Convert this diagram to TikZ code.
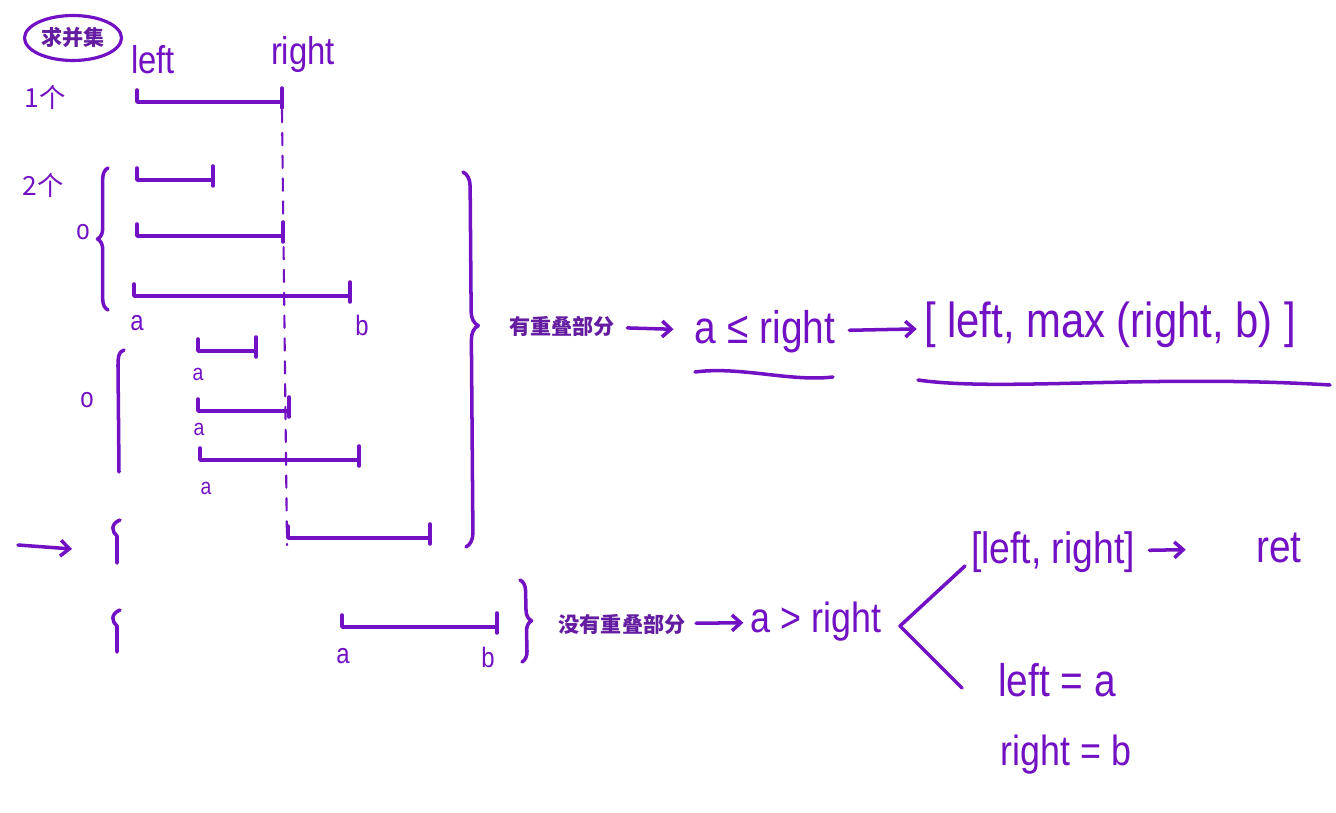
\documentclass[tikz,border=0pt]{standalone}
\usepackage{fontspec}
\setmainfont{Liberation Sans}
\newfontfamily\hand{Liberation Sans}[FakeStretch=0.85]
\newfontfamily\cjk{Noto Sans CJK SC}
\usepackage{tikz}
\usetikzlibrary{shapes,arrows.meta,positioning,decorations.pathreplacing}
\definecolor{ink}{RGB}{114,16,196}
\definecolor{inkdark}{RGB}{100,28,160}
\tikzstyle{pen} = [draw=ink, line width=2pt, line cap=round, line join=round]
\tikzstyle{arrow} = [pen, ->, >={Straight Barb[length=5pt,width=9pt]}]
\tikzstyle{hand} = [text=ink, inner sep=0pt, font=\hand\fontsize{24}{26}\selectfont]
\tikzstyle{small} = [text=ink, inner sep=0pt, font=\hand\fontsize{16}{18}\selectfont]
\tikzstyle{label} = [text=inkdark, inner sep=0pt, font=\cjk\bfseries\fontsize{12}{14}\selectfont]

\begin{document}
\begin{tikzpicture}[x=0.02cm, y=-0.02cm]
    \useasboundingbox[fill=white] (0,0) rectangle (1336,813);

    % Title
    \node[label, draw=ink, line width=1.8pt, ellipse, minimum width=1.94cm, minimum height=0.9cm] (title) at (73,38) {求并集};
    \node[hand, font=\hand\fontsize{22}{24}\selectfont] (lblLeft) at (153,60) {left};
    \node[hand, font=\hand\fontsize{22}{24}\selectfont] (lblRight) at (303,55) {right};
    \node[small, font=\cjk\fontsize{15}{17}\selectfont] (one) at (45,97) {1个};
    \node[small, font=\cjk\fontsize{15}{17}\selectfont] (two) at (43,185) {2个};

    % Intervals
    \foreach \xa/\xb/\y in {137/282/102, 137/213/180, 137/283/236, 134/350/296,
                            198/256/351, 198/289/411, 200/359/460,
                            288/430/538, 342/497/627} {
        \draw[pen] (\xa,\y-12) -- (\xa,\y) -- (\xb,\y);
        \draw[pen] (\xb,\y-14) -- (\xb,\y+6);
    }
    \draw[pen, line width=1.2pt, dash pattern=on 7pt off 6pt] (282,110) -- (287,545);

    % End points
    \node[small] (a1) at (137,323) {a};
    \node[small] (b1) at (362,325) {b};
    \node[small, font=\hand\fontsize{13}{15}\selectfont] (a2) at (198,374) {a};
    \node[small, font=\hand\fontsize{13}{15}\selectfont] (a3) at (199,429) {a};
    \node[small, font=\hand\fontsize{13}{15}\selectfont] (a4) at (206,488) {a};
    \node[small] (a5) at (343,656) {a};
    \node[small] (b5) at (488,657) {b};
    \node[small] (o1) at (83,232) {o};
    \node[small] (o2) at (87,400) {o};

    % Braces
    \draw[pen, decorate, decoration={brace, amplitude=6pt, aspect=0.5}] (108,310) -- (108,168);
    \draw[pen] (124,350) .. controls (118,352) and (118,358) .. (118,366) -- (119,472);
    \draw[pen] (120,520) .. controls (110,524) and (112,532) .. (117,536) -- (117,563);
    \draw[pen] (120,610) .. controls (110,614) and (112,622) .. (117,626) -- (117,652);
    \draw[pen, decorate, decoration={brace, amplitude=8pt, aspect=0.41}] (463,172) -- (466,547);
    \draw[pen, decorate, decoration={brace, amplitude=6pt, aspect=0.5}] (520,580) -- (522,662);
    \coordinate (cur) at (18,545);
    \coordinate (curTip) at (72,549);
    \draw[arrow] (cur) -- (curTip);

    % Overlap
    \node[label] (overlap) at (562,326) {有重叠部分};
    \node[hand, font=\hand\fontsize{26}{28}\selectfont] (condLe) at (765,332) {a ≤ right};
    \node[hand, font=\hand\fontsize{28}{30}\selectfont] (merge) at (1110,325) {[ left, max (right, b) ]};
    \draw[arrow, shorten <=7pt, shorten >=12pt] (overlap) -- (condLe);
    \draw[arrow, shorten <=8pt, shorten >=4pt] (condLe) -- (merge);
    \draw[pen] (695,372) .. controls (740,366) and (790,382) .. (833,377);
    \draw[pen] (918,380) .. controls (1000,392) and (1150,374) .. (1330,385);

    % No overlap
    \node[label] (noOverlap) at (622,624) {没有重叠部分};
    \node[hand] (condGt) at (816,622) {a > right};
    \draw[arrow, shorten <=6pt, shorten >=4pt] (noOverlap) -- (condGt);
    \node[hand, font=\hand\fontsize{25}{27}\selectfont] (push) at (1053,552) {[left, right]};
    \node[hand, font=\hand\fontsize{26}{28}\selectfont] (ret) at (1279,548) {ret};
    \draw[arrow, shorten <=8pt, shorten >=40pt] (push) -- (ret);
    \node[hand, font=\hand\fontsize{26}{28}\selectfont] (setLeft) at (1057,680) {left = a};
    \node[hand] (setRight) at (1066,755) {right = b};
    \coordinate (fork) at (900,626);
    \coordinate (forkUp) at (965,566);
    \coordinate (forkDown) at (962,688);
    \draw[pen] (forkUp) -- (fork) -- (forkDown);
\end{tikzpicture}
\end{document}
